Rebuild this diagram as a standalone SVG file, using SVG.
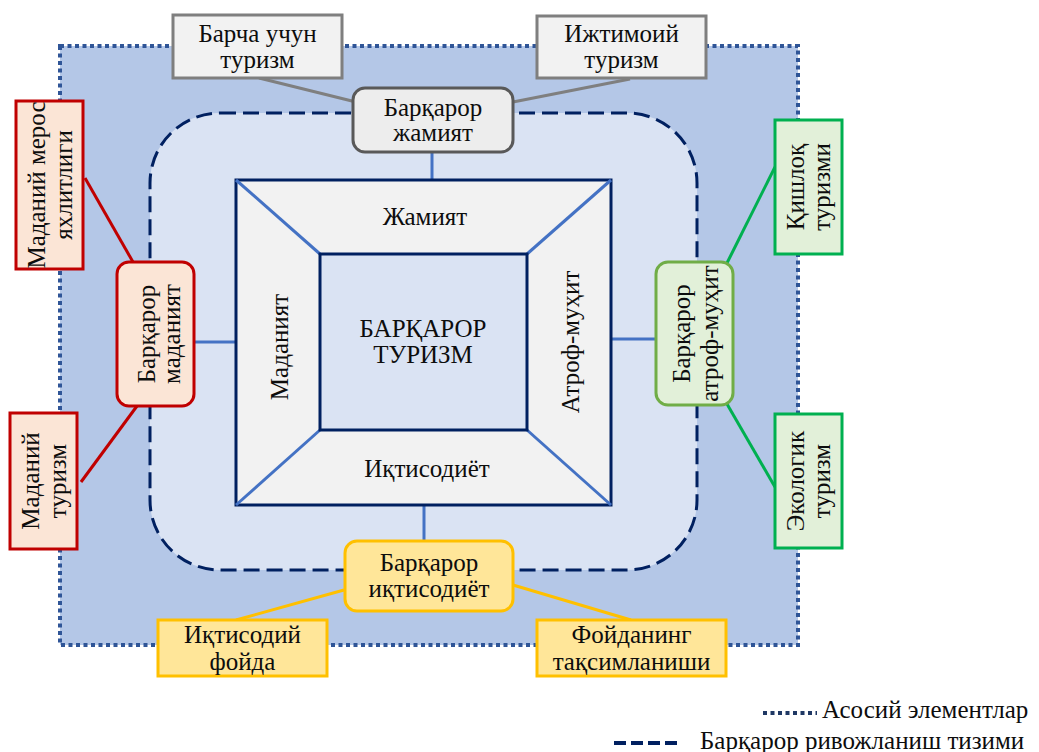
<svg xmlns="http://www.w3.org/2000/svg" width="1039" height="752" viewBox="0 0 1039 752">
<style>
.gray{fill:#f2f2f2;stroke:#7f7f7f;stroke-width:3}
.grayr{fill:#ededed;stroke:#595959;stroke-width:3}
.red{fill:#fbe5d6;stroke:#c00000;stroke-width:3}
.green{fill:#e2f0d9;stroke:#00b050;stroke-width:3}
.greenr{fill:#e2f0d9;stroke:#70ad47;stroke-width:3}
.yel{fill:#ffe699;stroke:#ffc000;stroke-width:3}
.blue{stroke:#4472c4;stroke-width:3;fill:none}
</style>
<g id="frame">
<rect x="60" y="46" width="738" height="599" fill="#b4c7e7"/>
<rect x="60" y="46" width="738" height="599" fill="none" stroke="#2f5597" stroke-width="4" stroke-dasharray="4 3.5"/>
<rect x="150" y="113" width="547" height="457" rx="70" fill="#dae3f3" stroke="#002060" stroke-width="3" stroke-dasharray="16 7"/>
</g>
<g id="connectors" stroke-width="3" fill="none">
<line x1="259" y1="78" x2="356" y2="102" stroke="#7f7f7f"/>
<line x1="630" y1="79" x2="513" y2="102" stroke="#7f7f7f"/>
<line x1="85" y1="178" x2="133" y2="262" stroke="#c00000"/>
<line x1="137" y1="406" x2="81" y2="482" stroke="#c00000"/>
<line x1="727" y1="263" x2="775" y2="167" stroke="#00b050"/>
<line x1="727" y1="404" x2="775" y2="487" stroke="#00b050"/>
<line x1="344" y1="590" x2="236" y2="620" stroke="#ffc000"/>
<line x1="513" y1="585" x2="631" y2="620" stroke="#ffc000"/>
<line x1="432" y1="152" x2="432" y2="180" class="blue"/>
<line x1="194" y1="342" x2="236" y2="342" class="blue"/>
<line x1="611" y1="339" x2="656" y2="339" class="blue"/>
<line x1="424" y1="505" x2="424" y2="541" class="blue"/>
</g>
<g id="center">
<rect x="236" y="180" width="375" height="325" fill="#f2f2f2" stroke="#002060" stroke-width="3"/>
<line x1="236" y1="180" x2="320" y2="254" class="blue"/>
<line x1="611" y1="180" x2="527" y2="254" class="blue"/>
<line x1="236" y1="505" x2="320" y2="430" class="blue"/>
<line x1="611" y1="505" x2="527" y2="430" class="blue"/>
<rect x="320" y="254" width="207" height="176" fill="#dae3f3" stroke="#002060" stroke-width="3"/>
<text x="425" y="225" font-family="Liberation Serif" style="font-family:'Liberation Serif' !important;font-size:25px" fill="#0d0d0d" text-anchor="middle">Жамият</text>
<text x="427" y="477" font-family="Liberation Serif" style="font-family:'Liberation Serif' !important;font-size:25px" fill="#0d0d0d" text-anchor="middle">Иқтисодиёт</text>
<text x="423" y="337" font-family="Liberation Serif" style="font-family:'Liberation Serif' !important;font-size:25px" fill="#0d0d0d" text-anchor="middle">БАРҚАРОР</text>
<text x="423" y="363" font-family="Liberation Serif" style="font-family:'Liberation Serif' !important;font-size:25px" fill="#0d0d0d" text-anchor="middle">ТУРИЗМ</text>
<text transform="translate(288 347) rotate(-90)" font-family="Liberation Serif" style="font-family:'Liberation Serif' !important;font-size:25px" fill="#0d0d0d" text-anchor="middle">Маданият</text>
<text transform="translate(579 342) rotate(-90)" font-family="Liberation Serif" style="font-family:'Liberation Serif' !important;font-size:25px" fill="#0d0d0d" text-anchor="middle">Атроф-муҳит</text>
</g>
<g id="n-barcha">
<rect x="173" y="15" width="169" height="63" class="gray"/>
<text x="257.5" y="42" font-family="Liberation Serif" style="font-family:'Liberation Serif' !important;font-size:25px" fill="#0d0d0d" text-anchor="middle">Барча учун</text>
<text x="257.5" y="68" font-family="Liberation Serif" style="font-family:'Liberation Serif' !important;font-size:25px" fill="#0d0d0d" text-anchor="middle">туризм</text>
</g>
<g id="n-ijtimoiy">
<rect x="537" y="16" width="169" height="62" class="gray"/>
<text x="621.5" y="42" font-family="Liberation Serif" style="font-family:'Liberation Serif' !important;font-size:25px" fill="#0d0d0d" text-anchor="middle">Ижтимоий</text>
<text x="621.5" y="68" font-family="Liberation Serif" style="font-family:'Liberation Serif' !important;font-size:25px" fill="#0d0d0d" text-anchor="middle">туризм</text>
</g>
<g id="n-jamiyat">
<rect x="353" y="88" width="160" height="64" rx="12" class="grayr"/>
<text x="433" y="116" font-family="Liberation Serif" style="font-family:'Liberation Serif' !important;font-size:25px" fill="#0d0d0d" text-anchor="middle">Барқарор</text>
<text x="433" y="141" font-family="Liberation Serif" style="font-family:'Liberation Serif' !important;font-size:25px" fill="#0d0d0d" text-anchor="middle">жамият</text>
</g>
<g id="n-meros">
<rect x="16" y="101" width="67" height="168" class="red"/>
<text transform="translate(49.5 185) rotate(-90)" font-family="Liberation Serif" style="font-family:'Liberation Serif' !important;font-size:25px" fill="#0d0d0d" text-anchor="middle"><tspan x="0" y="-5">Маданий мерос</tspan><tspan x="0" y="22">яхлитлиги</tspan></text>
</g>
<g id="n-madaniy-turizm">
<rect x="10" y="413" width="67" height="136" class="red"/>
<text transform="translate(43.5 481) rotate(-90)" font-family="Liberation Serif" style="font-family:'Liberation Serif' !important;font-size:25px" fill="#0d0d0d" text-anchor="middle"><tspan x="0" y="-5">Маданий</tspan><tspan x="0" y="22">туризм</tspan></text>
</g>
<g id="n-madaniyat">
<rect x="117" y="262" width="77" height="144" rx="12" class="red"/>
<text transform="translate(155.5 334) rotate(-90)" font-family="Liberation Serif" style="font-family:'Liberation Serif' !important;font-size:25px" fill="#0d0d0d" text-anchor="middle"><tspan x="0" y="-1">Барқарор</tspan><tspan x="0" y="24">маданият</tspan></text>
</g>
<g id="n-qishloq">
<rect x="775" y="120" width="67" height="134" class="green"/>
<text transform="translate(808.5 187) rotate(-90)" font-family="Liberation Serif" style="font-family:'Liberation Serif' !important;font-size:25px" fill="#0d0d0d" text-anchor="middle"><tspan x="0" y="-5">Қишлоқ</tspan><tspan x="0" y="21">туризми</tspan></text>
</g>
<g id="n-ekologik">
<rect x="775" y="414" width="67" height="134" class="green"/>
<text transform="translate(808.5 481) rotate(-90)" font-family="Liberation Serif" style="font-family:'Liberation Serif' !important;font-size:25px" fill="#0d0d0d" text-anchor="middle"><tspan x="0" y="-5">Экологик</tspan><tspan x="0" y="21">туризм</tspan></text>
</g>
<g id="n-atrof">
<rect x="656" y="262" width="77" height="143" rx="12" class="greenr"/>
<text transform="translate(694.5 333.5) rotate(-90)" font-family="Liberation Serif" style="font-family:'Liberation Serif' !important;font-size:25px" fill="#0d0d0d" text-anchor="middle"><tspan x="0" y="-5">Барқарор</tspan><tspan x="0" y="23">атроф-муҳит</tspan></text>
</g>
<g id="n-iqtisodiyot">
<rect x="345" y="541" width="168" height="70" rx="12" class="yel"/>
<text x="429" y="571" font-family="Liberation Serif" style="font-family:'Liberation Serif' !important;font-size:25px" fill="#0d0d0d" text-anchor="middle">Барқарор</text>
<text x="429" y="597" font-family="Liberation Serif" style="font-family:'Liberation Serif' !important;font-size:25px" fill="#0d0d0d" text-anchor="middle">иқтисодиёт</text>
</g>
<g id="n-foyda">
<rect x="158" y="620" width="169" height="56" class="yel"/>
<text x="242.5" y="643" font-family="Liberation Serif" style="font-family:'Liberation Serif' !important;font-size:25px" fill="#0d0d0d" text-anchor="middle">Иқтисодий</text>
<text x="242.5" y="670" font-family="Liberation Serif" style="font-family:'Liberation Serif' !important;font-size:25px" fill="#0d0d0d" text-anchor="middle">фойда</text>
</g>
<g id="n-taqsim">
<rect x="537" y="620" width="189" height="56" class="yel"/>
<text x="631.5" y="643" font-family="Liberation Serif" style="font-family:'Liberation Serif' !important;font-size:25px" fill="#0d0d0d" text-anchor="middle">Фойданинг</text>
<text x="631.5" y="670" font-family="Liberation Serif" style="font-family:'Liberation Serif' !important;font-size:25px" fill="#0d0d0d" text-anchor="middle">тақсимланиши</text>
</g>
<g id="legend">
<line x1="763" y1="713" x2="817" y2="713" stroke="#1f3864" stroke-width="4" stroke-dasharray="4 3.5"/>
<text x="822" y="718" font-family="Liberation Serif" style="font-family:'Liberation Serif' !important;font-size:25px" fill="#0d0d0d">Асосий элементлар</text>
<line x1="614" y1="743" x2="678" y2="743" stroke="#002060" stroke-width="4" stroke-dasharray="12 5"/>
<text x="700" y="749" font-family="Liberation Serif" style="font-family:'Liberation Serif' !important;font-size:25px" fill="#0d0d0d">Барқарор ривожланиш тизими</text>
</g>
</svg>
